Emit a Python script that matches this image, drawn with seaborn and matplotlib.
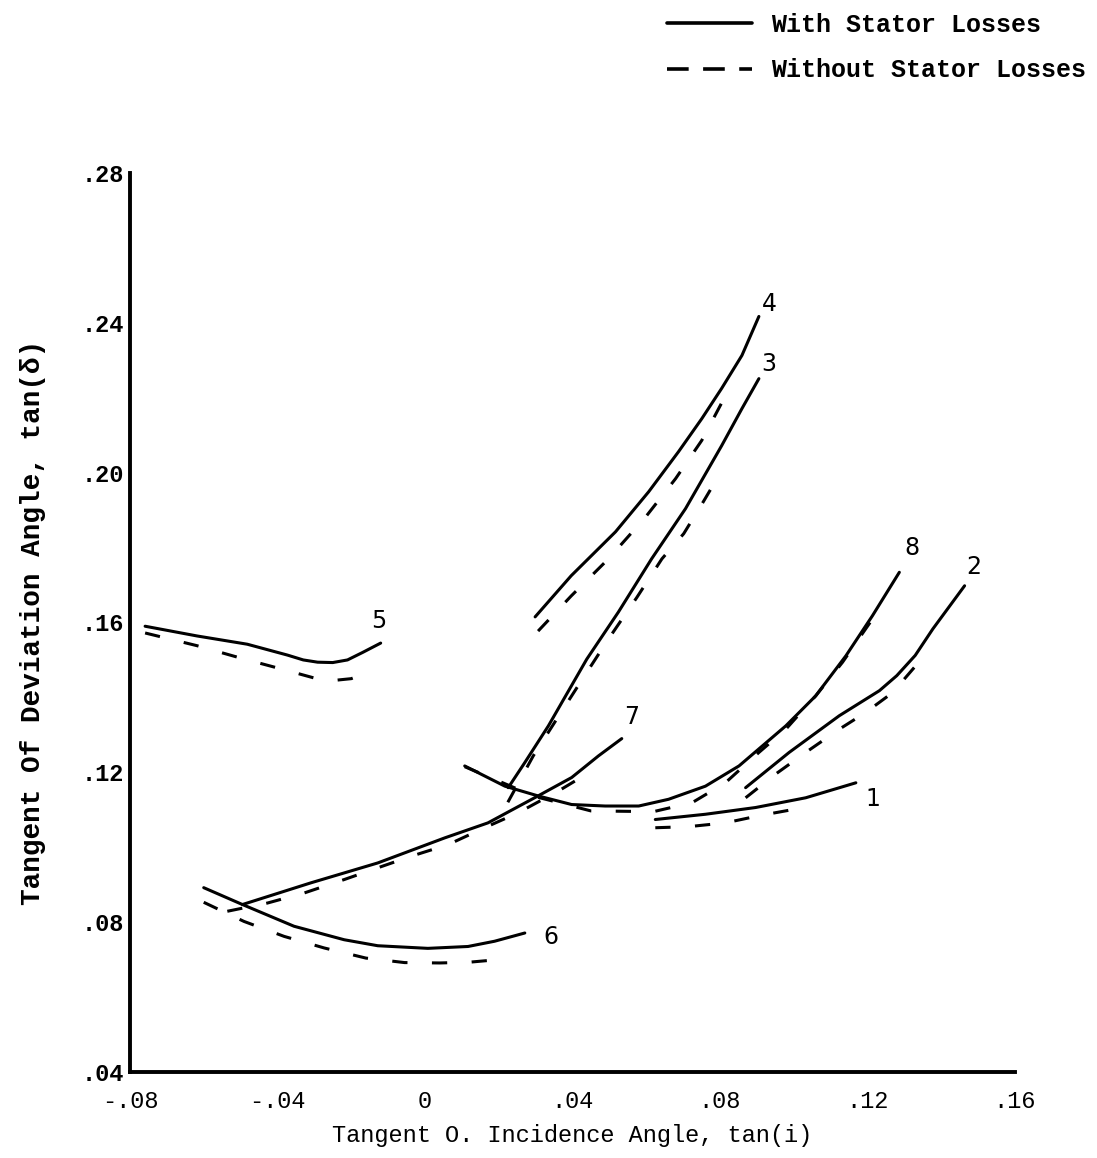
import numpy as np
import pandas as pd
import seaborn as sns
import matplotlib
matplotlib.use("Agg")
import matplotlib.pyplot as plt
from matplotlib.lines import Line2D

# ---------------- data ----------------
c1_with_x = [0.0625, 0.0761, 0.0897, 0.1033, 0.1169]
c1_with_y = [0.1074, 0.1088, 0.1106, 0.1132, 0.1172]
c1_wo_x = [0.0625, 0.0716, 0.0815, 0.0911, 0.1040]
c1_wo_y = [0.1052, 0.1055, 0.1065, 0.1085, 0.1108]

c2_with_x = [0.0870, 0.0988, 0.1124, 0.1233, 0.1280, 0.1330, 0.1378, 0.1464]
c2_with_y = [0.1159, 0.1253, 0.1351, 0.1418, 0.1458, 0.1512, 0.1583, 0.1698]
c2_wo_x = [0.0870, 0.0951, 0.1033, 0.1124, 0.1196, 0.1269, 0.1345]
c2_wo_y = [0.1132, 0.1195, 0.1253, 0.1315, 0.1360, 0.1413, 0.1500]

c3_with_x = [0.0226, 0.0271, 0.0335, 0.0439, 0.0525, 0.0615, 0.0707, 0.0805, 0.0860, 0.0906]
c3_with_y = [0.1159, 0.1226, 0.1324, 0.1502, 0.1628, 0.1770, 0.1904, 0.2072, 0.2171, 0.2251]
c3_wo_x = [0.0225, 0.0294, 0.0366, 0.0430, 0.0498, 0.0575, 0.0643, 0.0702, 0.0752, 0.0805]
c3_wo_y = [0.1120, 0.1244, 0.1355, 0.1453, 0.1556, 0.1667, 0.1770, 0.1837, 0.1917, 0.2005]

c4_with_x = [0.0299, 0.0397, 0.0517, 0.0607, 0.0688, 0.0751, 0.0805, 0.0860, 0.0906]
c4_with_y = [0.1615, 0.1725, 0.1842, 0.1949, 0.2056, 0.2144, 0.2225, 0.2313, 0.2417]
c4_wo_x = [0.0307, 0.0397, 0.0498, 0.0599, 0.0680, 0.0751, 0.0833]
c4_wo_y = [0.1577, 0.1671, 0.1770, 0.1882, 0.1984, 0.2086, 0.2238]

c5_with_x = [-0.0759, -0.0618, -0.0482, -0.0373, -0.0330, -0.0291, -0.0250, -0.0210, -0.0169, -0.0120]
c5_with_y = [0.1590, 0.1564, 0.1542, 0.1513, 0.1500, 0.1494, 0.1493, 0.1500, 0.1520, 0.1545]
c5_wo_x = [-0.0759, -0.0618, -0.0500, -0.0390, -0.0290, -0.0240, -0.0200, -0.0180]
c5_wo_y = [0.1572, 0.1538, 0.1505, 0.1476, 0.1449, 0.1446, 0.1450, 0.1457]

c6_with_x = [-0.0600, -0.0495, -0.0355, -0.0219, -0.0128, 0.0008, 0.0117, 0.0189, 0.0271]
c6_with_y = [0.0892, 0.0847, 0.0789, 0.0753, 0.0737, 0.0730, 0.0735, 0.0749, 0.0771]
c6_wo_x = [-0.0600, -0.0491, -0.0382, -0.0273, -0.0160, -0.0055, 0.0040, 0.0120, 0.0200]
c6_wo_y = [0.0853, 0.0802, 0.0762, 0.0731, 0.0704, 0.0692, 0.0691, 0.0693, 0.0700]

c7_with_x = [-0.0495, -0.0309, -0.0128, 0.0054, 0.0171, 0.0307, 0.0398, 0.0471, 0.0534]
c7_with_y = [0.0847, 0.0905, 0.0958, 0.1025, 0.1065, 0.1137, 0.1186, 0.1244, 0.1290]
c7_wo_x = [-0.0536, -0.0427, -0.0327, -0.0218, -0.0128, -0.0037, 0.0063, 0.0162, 0.0253, 0.0362, 0.0460]
c7_wo_y = [0.0829, 0.0851, 0.0878, 0.0914, 0.0945, 0.0976, 0.1007, 0.1052, 0.1092, 0.1150, 0.1208]

c8_with_x = [0.0108, 0.0217, 0.0307, 0.0398, 0.0489, 0.0580, 0.0661, 0.0761, 0.0852, 0.0979, 0.1060, 0.1142, 0.1214, 0.1287]
c8_with_y = [0.1217, 0.1163, 0.1137, 0.1114, 0.1110, 0.1110, 0.1128, 0.1163, 0.1217, 0.1324, 0.1404, 0.1511, 0.1618, 0.1734]
c8_wo_x = [0.0108, 0.0300, 0.0450, 0.0620, 0.0725, 0.0815, 0.0906, 0.0979, 0.1060, 0.1133, 0.1214]
c8_wo_y = [0.1215, 0.1135, 0.1097, 0.1095, 0.1119, 0.1172, 0.1253, 0.1315, 0.1404, 0.1494, 0.1609]

curve_labels = ["1", "2", "3", "4", "5", "6", "7", "8"]
label_x = [0.1214, 0.1488, 0.0934, 0.0934, -0.0125, 0.0343, 0.0560, 0.1320]
label_y = [0.1128, 0.1748, 0.2289, 0.2450, 0.1604, 0.0759, 0.1347, 0.1800]

x_ticks = [-0.08, -0.04, 0.0, 0.04, 0.08, 0.12, 0.16]
x_tick_labels = ["-.08", "-.04", "0", ".04", ".08", ".12", ".16"]
y_ticks = [0.04, 0.08, 0.12, 0.16, 0.20, 0.24, 0.28]
y_tick_labels = [".04", ".08", ".12", ".16", ".20", ".24", ".28"]

series_names = ["With Stator Losses", "Without Stator Losses"]

# ---------------- build long-form table ----------------
all_curves = {
    "1": (c1_with_x, c1_with_y, c1_wo_x, c1_wo_y),
    "2": (c2_with_x, c2_with_y, c2_wo_x, c2_wo_y),
    "3": (c3_with_x, c3_with_y, c3_wo_x, c3_wo_y),
    "4": (c4_with_x, c4_with_y, c4_wo_x, c4_wo_y),
    "5": (c5_with_x, c5_with_y, c5_wo_x, c5_wo_y),
    "6": (c6_with_x, c6_with_y, c6_wo_x, c6_wo_y),
    "7": (c7_with_x, c7_with_y, c7_wo_x, c7_wo_y),
    "8": (c8_with_x, c8_with_y, c8_wo_x, c8_wo_y),
}
rows = []
for name, (wx, wy, dx, dy) in all_curves.items():
    for xv, yv in zip(wx, wy):
        rows.append((name + "w", series_names[0], xv, yv))
    for xv, yv in zip(dx, dy):
        rows.append((name + "d", series_names[1], xv, yv))
df = pd.DataFrame(rows, columns=["unit", "series", "x", "y"])

# ---------------- plot ----------------
sns.set_theme(style="white")
plt.rcParams["font.family"] = ["Liberation Mono", "DejaVu Sans Mono"]
plt.rcParams["text.color"] = "black"
plt.rcParams["axes.labelcolor"] = "black"
plt.rcParams["xtick.color"] = "black"
plt.rcParams["ytick.color"] = "black"

fig = plt.figure(figsize=(10.97, 11.58), dpi=100)
ax = fig.add_axes([0.1185, 0.0743, 0.8065, 0.7763])

sns.lineplot(data=df, x="x", y="y", units="unit", style="series",
             estimator=None, sort=False, color="black", linewidth=2.2,
             dashes={series_names[0]: "", series_names[1]: (5, 8)},
             legend=False, ax=ax)

ax.set_xlim(-0.08, 0.16)
ax.set_ylim(0.04, 0.28)
ax.set_xticks(x_ticks)
ax.set_xticklabels(x_tick_labels, fontsize=17)
ax.set_yticks(y_ticks)
ax.set_yticklabels(y_tick_labels, fontsize=17, fontweight="bold")

for side in ["top", "right"]:
    ax.spines[side].set_visible(False)
for side in ["left", "bottom"]:
    ax.spines[side].set_linewidth(2.8)
    ax.spines[side].set_color("black")
ax.tick_params(axis="both", direction="in", length=9, width=2.2,
               colors="black", labelcolor="black")
ax.tick_params(axis="x", pad=13)
ax.tick_params(axis="y", pad=4)

ax.set_xlabel("Tangent O. Incidence Angle, tan(i)", fontsize=17, labelpad=8,
              color="black")
ax.set_ylabel("Tangent Of Deviation Angle, tan(δ)", fontsize=20,
              fontweight="bold", labelpad=26, color="black")

for lab, lx, ly in zip(curve_labels, label_x, label_y):
    ax.text(lx, ly, lab, fontsize=17, ha="center", va="center",
            family=["DejaVu Sans"], color="black")

handles = [Line2D([], [], color="black", linewidth=2.6),
           Line2D([], [], color="black", linewidth=2.6, dashes=(6, 4))]
fig.legend(handles, series_names, loc="upper right",
           bbox_to_anchor=(0.995, 0.993), frameon=False,
           prop={"family": "Liberation Mono", "weight": "bold", "size": 18},
           handlelength=3.4, handletextpad=0.8, labelspacing=0.85,
           borderpad=0.2, borderaxespad=0, labelcolor="black")

fig.savefig("out.png", dpi=100)
